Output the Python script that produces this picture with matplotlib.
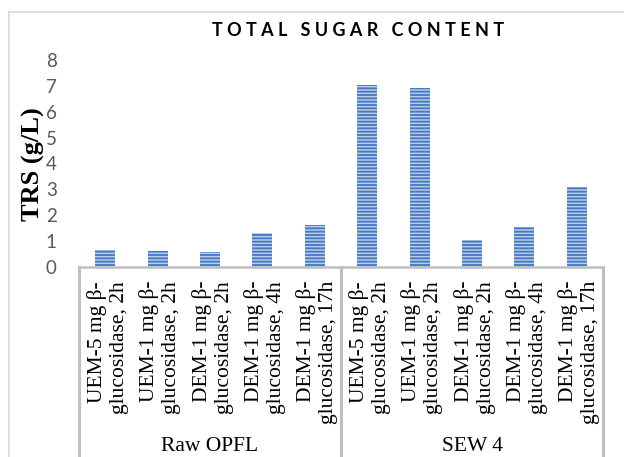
import matplotlib
matplotlib.use("Agg")
import matplotlib.pyplot as plt
from matplotlib.lines import Line2D
from matplotlib.transforms import blended_transform_factory

groups = ["Raw OPFL", "SEW 4"]
treatments = [
    "UEM-5 mg \u03b2-\nglucosidase, 2h",
    "UEM-1 mg \u03b2-\nglucosidase, 2h",
    "DEM-1 mg \u03b2-\nglucosidase, 2h",
    "DEM-1 mg \u03b2-\nglucosidase, 4h",
    "DEM-1 mg \u03b2-\nglucosidase, 17h",
]
raw_opfl = [0.65, 0.61, 0.59, 1.32, 1.64]
sew4 = [7.03, 6.93, 1.03, 1.53, 3.08]
yticks = [0, 1, 2, 3, 4, 5, 6, 7, 8]

values = raw_opfl + sew4
labels = treatments + treatments
x = list(range(len(values)))

W, H = 624, 457
plt.rcParams["hatch.linewidth"] = 1.3
fig = plt.figure(figsize=(W / 100, H / 100), dpi=100)
ax = fig.add_axes([79 / W, (H - 267) / H, (603 - 79) / W, (267 - 60) / H])

# striped blue bars
ax.bar(x, values, width=0.38, color="#b4cdeb", edgecolor="#4677c0",
       linewidth=0, hatch="-----", zorder=2)

ax.set_xlim(-0.5, len(values) - 0.5)
ax.set_ylim(0, 8)
ax.set_yticks(yticks)
ax.set_yticklabels([str(t) for t in yticks], fontfamily="Lato",
                   fontsize=13.5, color="#595959")
ax.tick_params(axis="y", length=0, pad=16)
ax.set_xticks([])
for s in ["top", "right", "left"]:
    ax.spines[s].set_visible(False)
ax.spines["bottom"].set_color("#bfbfbf")
ax.spines["bottom"].set_linewidth(1.8)

# category labels under each bar
tr = blended_transform_factory(ax.transData, fig.transFigure)
for xi, lab in zip(x, labels):
    ax.text(xi + 0.05, (H - 281) / H, lab, transform=tr, rotation=90,
            ha="center", va="top", multialignment="right",
            fontfamily="Liberation Serif", fontsize=15.5, linespacing=1.22)

# group separators and group names
for gx in [-0.5, 4.5, 9.5]:
    ax.add_line(Line2D([gx, gx], [(H - 267) / H, 0], transform=tr,
                       color="#bfbfbf", linewidth=2.2, clip_on=False))
for gi, g in enumerate(groups):
    ax.text(gi * 5 + 2, 1 / H, g, transform=tr, ha="center",
            va="bottom", fontfamily="Liberation Serif", fontsize=15.5)

fig.text(33 / W, (H - 164) / H, "TRS (g/L)", rotation=90, ha="center",
         va="center", fontfamily="Liberation Serif", fontweight="bold",
         fontsize=19)

title = "   ".join(" ".join(w) for w in "TOTAL SUGAR CONTENT".split())
fig.text(358 / W, (H - 30) / H, title, ha="center", va="center",
         fontfamily="Lato", fontweight="bold", fontsize=13)

# outer chart border
fig.add_artist(Line2D([9 / W, 9 / W], [0, (H - 12) / H], color="#d9d9d9",
                      linewidth=1.2))
fig.add_artist(Line2D([9 / W, 1], [(H - 12) / H, (H - 12) / H],
                      color="#d9d9d9", linewidth=1.2))

fig.savefig("out.png", dpi=100)
